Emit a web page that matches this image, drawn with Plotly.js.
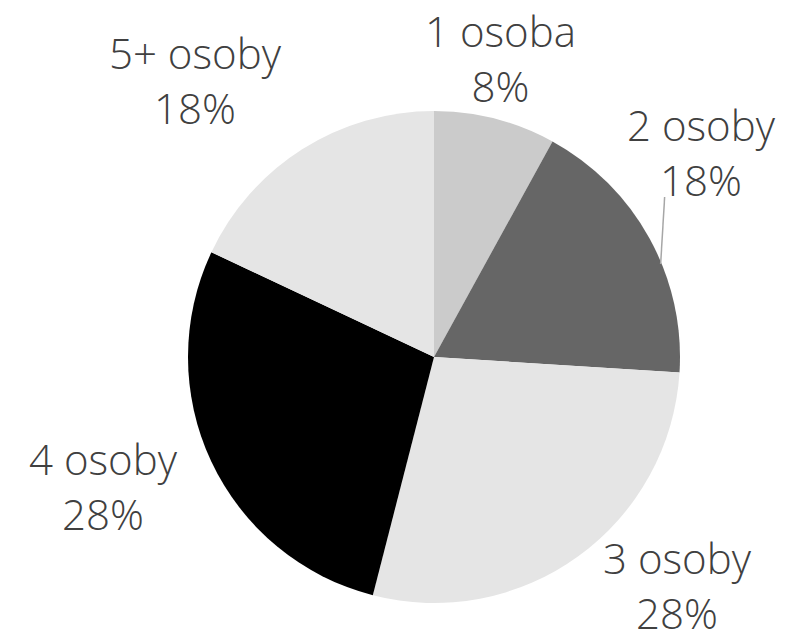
<!DOCTYPE html>
<html>
<head>
<meta charset="utf-8">
<script src="https://cdn.plot.ly/plotly-3.0.1.min.js"></script>
<style>html,body{margin:0;padding:0;background:#fff;}#chart{width:787px;height:640px;}</style>
</head>
<body>
<div id="chart"></div>
<script>
// ---- data ----
const categories = ["1 osoba", "2 osoby", "3 osoby", "4 osoby", "5+ osoby"];
const shares = [8, 18, 28, 28, 18];
const sliceColors = ["#cbcbcb", "#666666", "#e5e5e5", "#000000", "#e5e5e5"];

// ---- layout geometry (pixels) ----
const W = 787, H = 640;
const cx = 434, cy = 357, r = 246;
// label block centres (pixels from top-left)
const labelPos = [[500, 58], [701, 152], [677, 585], [103, 486], [195, 80]];
const FONT = "'Open Sans', Lato, sans-serif";
const FS = 42;

const px = x => x / W;
const py = y => 1 - y / H;

const trace = {
  type: "pie",
  labels: categories,
  values: shares,
  sort: false,
  direction: "clockwise",
  rotation: 0,
  marker: { colors: sliceColors, line: { width: 0 } },
  textinfo: "none",
  hoverinfo: "none",
  automargin: false,
  showlegend: false,
  domain: {
    x: [px(cx - r), px(cx + r)],
    y: [py(cy + r), py(cy - r)]
  }
};

const annotations = categories.map((c, i) => ({
  xref: "paper", yref: "paper",
  x: px(labelPos[i][0]), y: py(labelPos[i][1]),
  xanchor: "center", yanchor: "middle",
  align: "center",
  showarrow: false,
  text: c + "<br>" + shares[i] + "%",
  font: { family: FONT, size: FS, color: "#404040", weight: 300 }
}));

// leader line for slice 2: from a point on its rim up to its label
const total = shares.reduce((a, b) => a + b, 0);
const before = shares[0];
const lineAngle = (before + shares[1] * 0.6) / total * 2 * Math.PI; // clockwise from top
const rimX = cx + (r - 1) * Math.sin(lineAngle);
const rimY = cy - (r - 1) * Math.cos(lineAngle);

const shapes = [{
  type: "line", xref: "paper", yref: "paper",
  x0: px(rimX), y0: py(rimY),
  x1: px(rimX + 4), y1: py(197),
  line: { color: "#a6a6a6", width: 1.5 }
}];

const layout = {
  width: W,
  height: H,
  margin: { l: 0, r: 0, t: 0, b: 0 },
  paper_bgcolor: "#ffffff",
  showlegend: false,
  annotations: annotations,
  shapes: shapes
};

Plotly.newPlot("chart", [trace], layout, { displayModeBar: false, staticPlot: true });
</script>
</body>
</html>
